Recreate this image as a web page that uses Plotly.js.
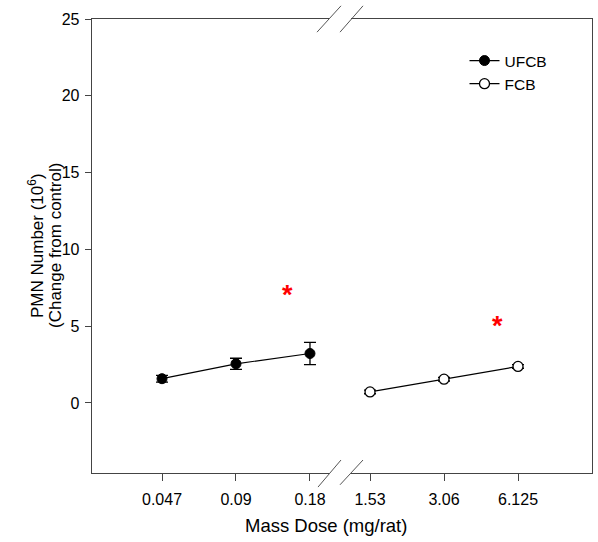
<!DOCTYPE html>
<html>
<head>
<meta charset="utf-8">
<script src="https://cdn.plot.ly/plotly-3.0.1.min.js"></script>
<style>html,body{margin:0;padding:0;background:#fff;}</style>
</head>
<body>
<div id="chart" style="width:598px;height:542px;"></div>
<script>
// Data
const ufcbDoses = ['0.047', '0.09', '0.18'];
const ufcbValues = [1.58, 2.55, 3.22];
const ufcbErrors = [0.22, 0.36, 0.72];

const fcbDoses = ['1.53', '3.06', '6.125'];
const fcbValues = [0.72, 1.55, 2.38];
const fcbErrors = [0.12, 0.12, 0.12];

// Significance markers (category position, y)
const sigLeftPos = 1.69, sigLeftY = 7.0;
const sigRightPos = 1.72, sigRightY = 5.03;

const axisColor = '#444';
const fam = 'Liberation Sans, Arial, sans-serif';
const font = {family: fam, size: 16, color: '#000'};

const traces = [
  {
    x: ufcbDoses, y: ufcbValues, name: 'UFCB', type: 'scatter', mode: 'lines+markers',
    xaxis: 'x', yaxis: 'y',
    line: {color: '#000', width: 1.2},
    marker: {color: '#000', size: 10, symbol: 'circle', line: {color: '#000', width: 1}},
    error_y: {type: 'data', array: ufcbErrors, visible: true, color: '#000', thickness: 1.3, width: 6},
    cliponaxis: false
  },
  {
    x: fcbDoses, y: fcbValues, name: 'FCB', type: 'scatter', mode: 'lines+markers',
    xaxis: 'x2', yaxis: 'y2',
    line: {color: '#000', width: 1.2},
    marker: {color: '#fff', size: 10, symbol: 'circle', line: {color: '#000', width: 1.3}},
    error_y: {type: 'data', array: fcbErrors, visible: true, color: '#000', thickness: 1.3, width: 6},
    cliponaxis: false
  }
];

const yRange = [-4.56, 25];
const slash = (x0, y0, x1, y1) => ({type: 'line', xref: 'paper', yref: 'paper', x0, y0, x1, y1,
  line: {color: '#555', width: 1}});

const layout = {
  width: 598, height: 542,
  margin: {l: 92, r: 6, t: 19, b: 69},
  paper_bgcolor: '#fff', plot_bgcolor: '#fff',
  font: font,
  showlegend: true,
  legend: {x: 0.745, y: 0.945, xanchor: 'left', yanchor: 'top', bgcolor: 'rgba(0,0,0,0)',
           font: {family: fam, size: 15.5, color: '#000'}, tracegroupgap: 0},
  xaxis: {
    domain: [0, 0.474], type: 'category', range: [-0.946, 2.257],
    showline: true, linecolor: axisColor, linewidth: 1.3, mirror: true,
    ticks: 'outside', ticklen: 7, tickcolor: axisColor, tickwidth: 1, ticklabelstandoff: 4,
    showgrid: false, zeroline: false, tickfont: font, anchor: 'y'
  },
  xaxis2: {
    domain: [0.518, 1], type: 'category', range: [-0.257, 3.0],
    showline: true, linecolor: axisColor, linewidth: 1.3, mirror: true,
    ticks: 'outside', ticklen: 7, tickcolor: axisColor, tickwidth: 1, ticklabelstandoff: 4,
    showgrid: false, zeroline: false, tickfont: font, anchor: 'y2'
  },
  yaxis: {
    range: yRange, tickvals: [0, 5, 10, 15, 20, 25],
    showline: true, linecolor: axisColor, linewidth: 1.3,
    ticks: 'outside', ticklen: 6, tickcolor: axisColor, tickwidth: 1, ticklabelstandoff: 2,
    showgrid: false, zeroline: false, tickfont: font, anchor: 'x'
  },
  yaxis2: {
    range: yRange, anchor: 'x2', side: 'right', matches: 'y',
    showline: true, linecolor: axisColor, linewidth: 1.3,
    ticks: '', showticklabels: false, showgrid: false, zeroline: false
  },
  shapes: [
    slash(0.450, 0.971, 0.498, 1.029),
    slash(0.496, 0.971, 0.542, 1.029),
    slash(0.452, -0.031, 0.498, 0.0286),
    slash(0.496, -0.026, 0.542, 0.0286)
  ],
  annotations: [
    {xref: 'x', yref: 'y', x: sigLeftPos, y: sigLeftY, text: '<b>*</b>', showarrow: false,
     font: {family: fam, size: 27, color: '#ff0000'}},
    {xref: 'x2', yref: 'y2', x: sigRightPos, y: sigRightY, text: '<b>*</b>', showarrow: false,
     font: {family: fam, size: 27, color: '#ff0000'}},
    {xref: 'paper', yref: 'paper', x: 0.468, y: -0.115, xanchor: 'center', yanchor: 'middle',
     text: 'Mass Dose (mg/rat)', showarrow: false,
     font: {family: fam, size: 18.5, color: '#000'}},
    {xref: 'paper', yref: 'paper', x: -0.112, y: 0.5, xanchor: 'center', yanchor: 'middle',
     textangle: -90, text: 'PMN Number (10<sup>6</sup>)', showarrow: false,
     font: {family: fam, size: 17, color: '#000'}},
    {xref: 'paper', yref: 'paper', x: -0.074, y: 0.5, xanchor: 'center', yanchor: 'middle',
     textangle: -90, text: '(Change from control)', showarrow: false,
     font: {family: fam, size: 17, color: '#000'}}
  ]
};

Plotly.newPlot('chart', traces, layout, {displayModeBar: false, staticPlot: true});
</script>
</body>
</html>
